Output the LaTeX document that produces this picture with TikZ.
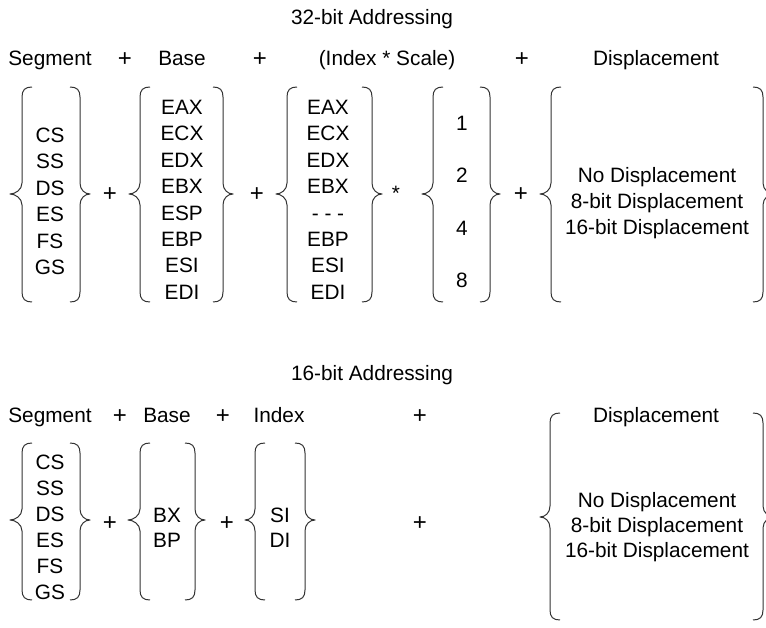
\documentclass[tikz,border=0pt]{standalone}
\usepackage{fontspec}
\setmainfont{Liberation Sans}
\newcommand{\mybrl}[5]{% v, tip, top, bottom, mid
 \draw[brc] ({#1+10},#3) .. controls ({#1+3},#3) and (#1,{#3+3}) .. (#1,{#3+10})
   -- (#1,{#5-11}) .. controls (#1,{#5-4}) and ({#2+5},#5) .. (#2,#5)
   .. controls ({#2+5},#5) and (#1,{#5+4}) .. (#1,{#5+11})
   -- (#1,{#4-10}) .. controls (#1,{#4-3}) and ({#1+3},#4) .. ({#1+10},#4);}
\newcommand{\mybrr}[5]{% v, tip, top, bottom, mid
 \draw[brc] ({#1-10},#3) .. controls ({#1-3},#3) and (#1,{#3+3}) .. (#1,{#3+10})
   -- (#1,{#5-11}) .. controls (#1,{#5-4}) and ({#2-5},#5) .. (#2,#5)
   .. controls ({#2-5},#5) and (#1,{#5+4}) .. (#1,{#5+11})
   -- (#1,{#4-10}) .. controls (#1,{#4-3}) and ({#1-3},#4) .. ({#1-10},#4);}
\tikzset{
  txt/.style={inner sep=0pt, text height=15pt, text depth=0pt, font=\fontsize{20.8}{26}\selectfont},
  pls/.style={inner sep=0pt, yshift=-1.5pt, font=\fontsize{24}{26}\selectfont},
  brc/.style={line width=1pt, draw=black!80, line join=round}
}
\begin{document}
\begin{tikzpicture}[x=1pt,y=-1pt]
\useasboundingbox (0,0) rectangle (766,628);
% ---------- 32-bit ----------
\node[txt] (t32) at (372,17) {32-bit Addressing};
\node[txt] (h1seg) at (50,58) {Segment};
\node[pls] (h1p1) at (125,58) {+};
\node[txt] (h1base) at (182,58) {Base};
\node[pls] (h1p2) at (260,58) {+};
\node[txt] (h1idx) at (387,58) {(Index * Scale)};
\node[pls] (h1p3) at (522,58) {+};
\node[txt] (h1disp) at (656,58) {Displacement};
\foreach \s [count=\i from 0] in {CS,SS,DS,ES,FS,GS}
  \node[txt] (a1seg\i) at (50,{135+26.4*\i}) {\s};
\foreach \s [count=\i from 0] in {EAX,ECX,EDX,EBX,ESP,EBP,ESI,EDI}
  \node[txt] (a1base\i) at (182,{107+26.4*\i}) {\s};
\foreach \s [count=\i from 0] in {EAX,ECX,EDX,EBX,- - -,EBP,ESI,EDI}
  \node[txt] (a1idx\i) at (328,{107+26.4*\i}) {\s};
\foreach \s [count=\i from 0] in {1,2,4,8}
  \node[txt] (a1sc\i) at (462,{123+52.4*\i}) {\s};
\node[txt] (a1d0) at (657,175) {No Displacement};
\node[txt] (a1d1) at (657,201) {8-bit Displacement};
\node[txt] (a1d2) at (657,227) {16-bit Displacement};
\node[pls] (a1p1) at (110,193) {+};
\node[pls] (a1p2) at (257,193) {+};
\node[txt] (a1st) at (396,193) {*};
\node[pls] (a1p3) at (521,193) {+};
\mybrl{22}{10}{87}{302}{194}
\mybrr{80}{90}{87}{302}{194}
\mybrl{140}{129}{87}{302}{194}
\mybrr{223}{233}{87}{302}{194}
\mybrl{287}{276}{87}{302}{194}
\mybrr{372}{382}{87}{302}{194}
\mybrl{433}{422}{87}{302}{194}
\mybrr{490}{500}{87}{302}{194}
\mybrl{551}{540}{87}{302}{194}
\mybrr{763}{774}{87}{302}{194}
% ---------- 16-bit ----------
\node[txt] (t16) at (372,373) {16-bit Addressing};
\node[txt] (h2seg) at (50,415) {Segment};
\node[pls] (h2p1) at (120,415) {+};
\node[txt] (h2base) at (167,415) {Base};
\node[pls] (h2p2) at (223,415) {+};
\node[txt] (h2idx) at (279,415) {Index};
\node[pls] (h2p3) at (420,415) {+};
\node[txt] (h2disp) at (656,415) {Displacement};
\foreach \s [count=\i from 0] in {CS,SS,DS,ES,FS,GS}
  \node[txt] (b1seg\i) at (50,{462+26*\i}) {\s};
\node[txt] (b1base0) at (167,515) {BX};
\node[txt] (b1base1) at (167,540) {BP};
\node[txt] (b1idx0) at (280,515) {SI};
\node[txt] (b1idx1) at (280,540) {DI};
\node[txt] (b1d0) at (657,500) {No Displacement};
\node[txt] (b1d1) at (657,525) {8-bit Displacement};
\node[txt] (b1d2) at (657,550) {16-bit Displacement};
\node[pls] (b1p1) at (110,522) {+};
\node[pls] (b1p2) at (227,522) {+};
\node[pls] (b1p3) at (420,522) {+};
\mybrl{22}{10}{443}{600}{520}
\mybrr{80}{90}{443}{600}{520}
\mybrl{140}{128}{443}{600}{520}
\mybrr{195}{205}{443}{600}{520}
\mybrl{255}{245}{443}{600}{520}
\mybrr{305}{315}{443}{600}{520}
\mybrl{550}{540}{413}{620}{517}
\mybrr{763}{774}{413}{620}{517}
\end{tikzpicture}
\end{document}
